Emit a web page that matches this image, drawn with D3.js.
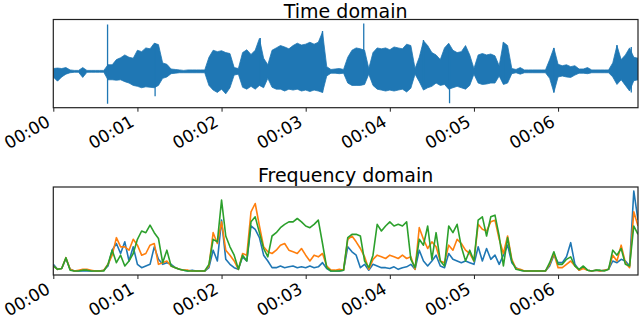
<!DOCTYPE html>
<html>
<head>
<meta charset="utf-8">
<script src="https://cdn.jsdelivr.net/npm/d3@7/dist/d3.min.js"></script>
<style>
  body { margin: 0; background: #fff; }
  text { font-family: "DejaVu Sans", sans-serif; }
</style>
</head>
<body>
<div id="chart-area"></div>
<script>
// clip length in seconds, one value every 0.05 s
var duration = 6.95,
    step = 0.05;

var tickValues = [0, 1, 2, 3, 4, 5, 6];
var tickLabels = ["00:00", "00:01", "00:02", "00:03", "00:04", "00:05", "00:06"];

// waveform envelope (upper / lower) per 0.05 s bin
var waveHi = [
  .06, .07, .06, .08, .03, .02, .02, .08, .02, .02,
  .02, .02, .02, .14, .14, .25, .29, .35, .30, .28,
  .45, .42, .50, .48, .60, .57, .18, .15, .05, .04,
  .03, .02, .03, .03, .03, .03, .03, .30, .45, .42,
  .44, .40, .38, .08, .06, .40, .46, .36, .45, .70,
  .28, .14, .45, .50, .55, .52, .48, .55, .60, .56,
  .58, .62, .58, .62, .84, .10, .04, .05, .06, .04,
  .30, .45, .50, .48, .45, .06, .40, .50, .48, .50,
  .46, .52, .50, .48, .58, .55, .06, .30, .65, .55,
  .40, .35, .25, .50, .60, .45, .40, .42, .55, .35,
  .06, .35, .38, .35, .37, .33, .12, .62, .55, .06,
  .04, .08, .03, .03, .03, .03, .03, .03, .25, .50,
  .15, .12, .14, .10, .12, .05, .05, .08, .03, .03,
  .03, .03, .03, .18, .55, .25, .35, .50, .30, .28
];
var waveLo = [
  -.12, -.21, -.12, -.06, -.03, -.02, -.02, -.13, -.02, -.02,
  -.02, -.02, -.02, -.18, -.18, -.19, -.18, -.22, -.25, -.30,
  -.32, -.35, -.33, -.34, -.35, -.30, -.15, -.12, -.05, -.04,
  -.03, -.03, -.03, -.03, -.03, -.03, -.03, -.30, -.40, -.45,
  -.38, -.48, -.35, -.08, -.06, -.34, -.38, -.32, -.38, -.30,
  -.35, -.15, -.34, -.38, -.38, -.42, -.38, -.40, -.38, -.42,
  -.40, -.43, -.40, -.42, -.45, -.10, -.04, -.04, -.05, -.04,
  -.25, -.30, -.30, -.30, -.28, -.06, -.30, -.38, -.40, -.42,
  -.40, -.42, -.40, -.38, -.44, -.36, -.06, -.22, -.40, -.35,
  -.32, -.25, -.30, -.28, -.38, -.35, -.32, -.35, -.38, -.30,
  -.06, -.25, -.28, -.27, -.25, -.25, -.10, -.28, -.25, -.05,
  -.03, -.06, -.03, -.03, -.03, -.03, -.03, -.03, -.15, -.45,
  -.12, -.10, -.12, -.13, -.08, -.04, -.04, -.05, -.03, -.03,
  -.03, -.03, -.03, -.12, -.28, -.18, -.30, -.42, -.20, -.18
];

// single tall clicks in the waveform
var spikeT  = [0.645, 1.21, 2.46, 3.20, 3.69, 4.40, 4.71, 5.35, 5.95, 6.70, 6.87];
var spikeHi = [1.00, 0.60, 0.71, 0.86, 1.02, 0.67, 0.50, 0.62, 0.50, 0.56, 0.52];
var spikeLo = [-0.69, -0.53, -0.30, -0.45, -0.10, -0.30, -0.68, -0.25, -0.45, -0.20, -0.45];

// frequency-domain series, one value every 0.05 s
var freqBlue = [
  .09, .03, .04, .16, .03, .01, .01, .01, .01, .01,
  .01, .01, .02, .07, .26, .34, .22, .36, .13, .30,
  .09, .05, .07, .09, .30, .15, .09, .11, .09, .05,
  .03, .02, .01, .02, .01, .01, .01, .05, .26, .13,
  .62, .15, .09, .05, .03, .18, .13, .55, .51, .41,
  .20, .13, .05, .05, .07, .05, .06, .07, .05, .06,
  .05, .07, .05, .06, .11, .04, .01, .01, .01, .02,
  .30, .24, .20, .05, .09, .02, .09, .07, .05, .05,
  .04, .06, .03, .05, .06, .09, .03, .26, .13, .07,
  .13, .20, .07, .05, .22, .15, .13, .11, .13, .11,
  .09, .30, .13, .28, .15, .20, .09, .20, .32, .11,
  .05, .02, .01, .01, .01, .01, .01, .01, .07, .20,
  .11, .11, .18, .35, .09, .02, .06, .02, .01, .02,
  .01, .02, .03, .13, .11, .15, .13, .07, .97, .62
];
var freqOrange = [
  .07, .03, .04, .17, .03, .01, .02, .03, .03, .02,
  .01, .01, .02, .09, .20, .41, .30, .30, .26, .39,
  .32, .20, .22, .32, .34, .09, .11, .13, .07, .05,
  .03, .02, .02, .01, .01, .01, .01, .07, .47, .34,
  .60, .26, .20, .13, .03, .22, .20, .72, .82, .55,
  .30, .24, .22, .26, .32, .34, .26, .24, .22, .28,
  .20, .13, .20, .18, .22, .07, .02, .02, .03, .02,
  .39, .43, .36, .28, .18, .03, .15, .20, .18, .16,
  .20, .18, .16, .20, .16, .18, .03, .53, .39, .28,
  .36, .30, .13, .11, .32, .26, .39, .34, .26, .22,
  .13, .57, .51, .49, .60, .62, .39, .22, .43, .15,
  .04, .03, .01, .01, .01, .01, .01, .01, .09, .22,
  .05, .05, .09, .13, .07, .02, .04, .02, .01, .02,
  .01, .02, .03, .20, .13, .32, .11, .05, .72, .55
];
var freqGreen = [
  .07, .03, .04, .17, .02, .01, .01, .02, .02, .01,
  .01, .01, .01, .09, .26, .11, .20, .07, .13, .22,
  .39, .49, .47, .56, .47, .40, .11, .26, .07, .05,
  .03, .02, .01, .01, .01, .01, .01, .09, .39, .36,
  .86, .43, .30, .20, .03, .20, .13, .60, .66, .47,
  .28, .18, .43, .47, .53, .57, .60, .60, .64, .60,
  .55, .53, .57, .62, .34, .05, .01, .01, .01, .02,
  .41, .45, .45, .43, .13, .05, .20, .57, .49, .55,
  .60, .55, .57, .55, .60, .15, .05, .39, .32, .55,
  .15, .47, .13, .07, .55, .47, .57, .30, .13, .26,
  .13, .62, .66, .43, .66, .68, .43, .07, .41, .13,
  .03, .02, .01, .01, .01, .01, .01, .01, .11, .24,
  .09, .09, .15, .18, .07, .03, .07, .02, .01, .02,
  .02, .01, .03, .26, .20, .28, .09, .07, .55, .45
];

var colors = ["#1f77b4", "#ff7f0e", "#2ca02c"];

//Set chart area
var width = 640,
    height = 319,
    left = 53.3,
    right = 638;

var svg = d3.select("#chart-area").append("svg")
    .attr("width", width)
    .attr("height", height);

var x = d3.scaleLinear().domain([0, duration]).range([left, right]);

// matplotlib-like autoscale: 5% margin on each side
function padded(lo, hi) {
    var m = (hi - lo) * 0.05;
    return [lo - m, hi + m];
}

// draws axes frame, title and rotated time ticks for one panel
function makePanel(top, bottom, title, titleY, id) {
    var g = svg.append("g");

    svg.append("clipPath").attr("id", id)
        .append("rect")
        .attr("x", left).attr("y", top)
        .attr("width", right - left).attr("height", bottom - top);

    var plot = g.append("g").attr("clip-path", "url(#" + id + ")");

    var xAxis = d3.axisBottom(x)
        .tickValues(tickValues)
        .tickFormat(function(d, i) { return tickLabels[i]; })
        .tickSize(4);

    var ax = g.append("g")
        .attr("transform", "translate(0," + bottom + ")")
        .call(xAxis);
    ax.select(".domain").remove();
    ax.selectAll("line").attr("stroke", "#222").attr("stroke-width", 1);
    ax.selectAll("text")
        .attr("x", -2.5)
        .attr("y", 17.3)
        .attr("dy", 0)
        .attr("transform", "rotate(-30,-2.5,17.3)")
        .style("text-anchor", "end")
        .style("font-size", "17px")
        .style("font-family", "'DejaVu Sans', sans-serif")
        .attr("fill", "#000");

    g.append("text")
        .attr("x", (left + right) / 2)
        .attr("y", titleY)
        .attr("text-anchor", "middle")
        .style("font-size", "19px")
        .text(title);

    return { g: g, plot: plot, top: top, bottom: bottom };
}

//Time domain panel
var p1 = makePanel(19.5, 107.7, "Time domain", 17.7, "clipTop");
var waveMin = d3.min(waveLo.concat(spikeLo)),
    waveMax = d3.max(waveHi.concat(spikeHi));
var y1 = d3.scaleLinear().domain(padded(waveMin, waveMax)).range([p1.bottom, p1.top]);

var wave = waveHi.map(function(h, i) {
    return { t: i * step, hi: h, lo: waveLo[i] };
});

// filled envelope between upper and lower extent
p1.plot.append("path")
    .datum(wave)
    .attr("d", d3.area()
        .x(function(d) { return x(d.t); })
        .y0(function(d) { return y1(d.lo); })
        .y1(function(d) { return y1(d.hi); }))
    .attr("fill", colors[0])
    .attr("stroke", colors[0])
    .attr("stroke-width", 0.8);

p1.plot.selectAll(".spike")
    .data(spikeT)
    .enter()
    .append("line")
    .attr("x1", function(d) { return x(d); })
    .attr("x2", function(d) { return x(d); })
    .attr("y1", function(d, i) { return y1(spikeHi[i]); })
    .attr("y2", function(d, i) { return y1(spikeLo[i]); })
    .attr("stroke", colors[0])
    .attr("stroke-width", 1.3);

p1.g.append("rect")
    .attr("x", left).attr("y", p1.top)
    .attr("width", right - left).attr("height", p1.bottom - p1.top)
    .attr("fill", "none").attr("stroke", "#222").attr("stroke-width", 1.2);

//Frequency domain panel
var p2 = makePanel(187, 275, "Frequency domain", 181.5, "clipBottom");
var series = [freqBlue, freqOrange, freqGreen];
var fMin = d3.min(series, function(s) { return d3.min(s); }),
    fMax = d3.max(series, function(s) { return d3.max(s); });
var y2 = d3.scaleLinear().domain(padded(fMin, fMax)).range([p2.bottom, p2.top]);

var line = d3.line()
    .x(function(d, i) { return x(i * step); })
    .y(function(d) { return y2(d); });

series.forEach(function(s, k) {
    p2.plot.append("path")
        .datum(s)
        .attr("d", line)
        .attr("fill", "none")
        .attr("stroke", colors[k])
        .attr("stroke-width", 1.6)
        .attr("stroke-linejoin", "round");
});

p2.g.append("rect")
    .attr("x", left).attr("y", p2.top)
    .attr("width", right - left).attr("height", p2.bottom - p2.top)
    .attr("fill", "none").attr("stroke", "#222").attr("stroke-width", 1.2);
</script>
</body>
</html>
